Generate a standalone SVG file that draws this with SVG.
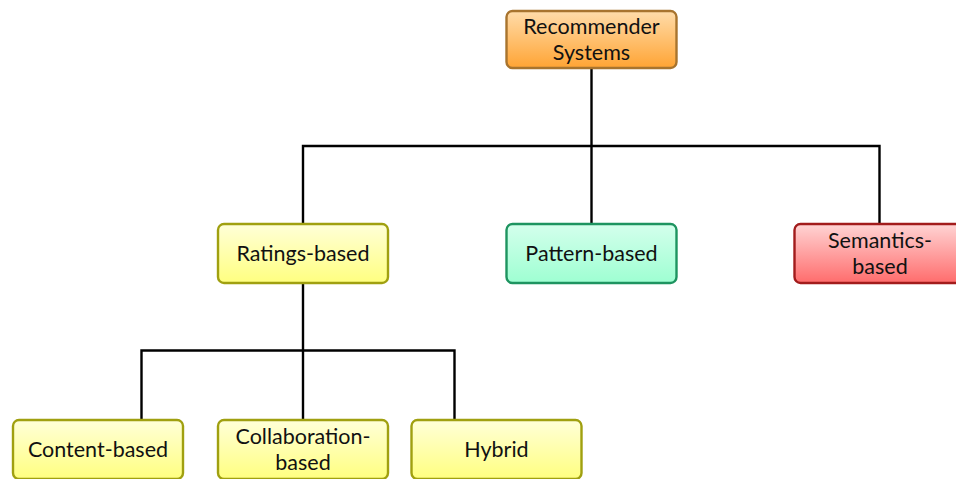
<svg xmlns="http://www.w3.org/2000/svg" width="956" height="479" viewBox="0 0 956 479">
<defs>
<linearGradient id="gO" x1="0" y1="0" x2="0" y2="1"><stop offset="0" stop-color="#ffdcaa"/><stop offset="1" stop-color="#ffa434"/></linearGradient>
<linearGradient id="gY" x1="0" y1="0" x2="0" y2="1"><stop offset="0" stop-color="#ffffd8"/><stop offset="1" stop-color="#ffff80"/></linearGradient>
<linearGradient id="gG" x1="0" y1="0" x2="0" y2="1"><stop offset="0" stop-color="#d4ffec"/><stop offset="1" stop-color="#9effd2"/></linearGradient>
<linearGradient id="gR" x1="0" y1="0" x2="0" y2="1"><stop offset="0" stop-color="#ffd4d4"/><stop offset="1" stop-color="#ff6c6c"/></linearGradient>
</defs>
<style>
.box{stroke-width:2.4}
.o{fill:url(#gO);stroke:#a8742e}
.y{fill:url(#gY);stroke:#a0a010}
.g{fill:url(#gG);stroke:#1e9460}
.r{fill:url(#gR);stroke:#a21c1c}
text{font-family:Lato,"Open Sans","Liberation Sans",sans-serif;font-size:21.5px;fill:#111;text-anchor:middle}
.edge{fill:none;stroke:#000;stroke-width:2.4}
</style>
<g id="connectors">
<path class="edge" d="M591.5 68 V146"/>
<path class="edge" d="M303 224 V146 H879.5 V224"/>
<path class="edge" d="M591.5 146 V224"/>
<path class="edge" d="M303 283 V420"/>
<path class="edge" d="M141.5 420 V350.5 H454.5 V420"/>
</g>
<g id="n-rec"><rect class="box o" x="506.5" y="11" width="170" height="57" rx="6"/><text x="591.5" y="33.5">Recommender</text><text x="591.5" y="60">Systems</text></g>
<g id="n-ratings"><rect class="box y" x="218" y="224" width="170" height="59" rx="6"/><text x="303" y="261">Ratings-based</text></g>
<g id="n-pattern"><rect class="box g" x="506.5" y="224" width="170" height="59" rx="6"/><text x="591.5" y="261">Pattern-based</text></g>
<g id="n-semantics"><rect class="box r" x="794.5" y="224" width="170" height="59" rx="6"/><text x="880" y="247.5">Semantics-</text><text x="880" y="274">based</text></g>
<g id="n-content"><rect class="box y" x="13" y="420" width="170" height="59" rx="6"/><text x="98" y="457">Content-based</text></g>
<g id="n-collab"><rect class="box y" x="218" y="420" width="170" height="59" rx="6"/><text x="303" y="443.5">Collaboration-</text><text x="303" y="470">based</text></g>
<g id="n-hybrid"><rect class="box y" x="411.5" y="420" width="170" height="59" rx="6"/><text x="496.5" y="457">Hybrid</text></g>
</svg>
